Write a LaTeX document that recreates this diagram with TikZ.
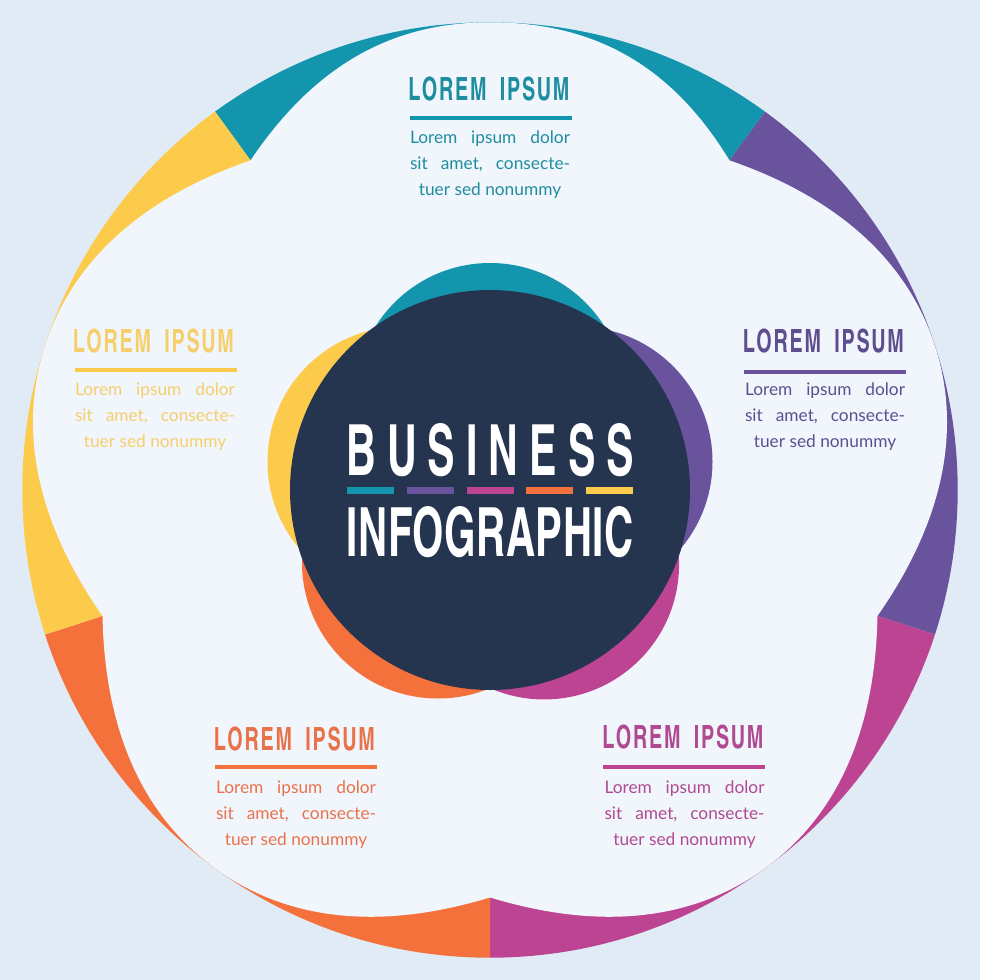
\documentclass[tikz,border=0pt]{standalone}
\usepackage{fontspec}
\usepackage{graphicx}
\usetikzlibrary{calc}
\setmainfont{Lato}
\newfontfamily\headfont[LetterSpace=7]{TeX Gyre Heros Cn}
\newfontfamily\titlefont[LetterSpace=22]{TeX Gyre Heros Cn}
\newfontfamily\titlefontb[LetterSpace=1]{TeX Gyre Heros Cn}
\definecolor{bgc}{HTML}{E1EBF5}
\definecolor{flowerc}{HTML}{F1F6FD}
\definecolor{tealc}{HTML}{1396AD}
\definecolor{purplec}{HTML}{6A539D}
\definecolor{magentac}{HTML}{BD4493}
\definecolor{orangec}{HTML}{F4713C}
\definecolor{yellowc}{HTML}{FDCB4C}
\definecolor{darkc}{HTML}{25354F}
\definecolor{ttealc}{HTML}{1F8DA0}
\definecolor{tpurplec}{HTML}{5E4E8E}
\definecolor{tmagentac}{HTML}{B04A90}
\definecolor{torangec}{HTML}{E8734A}
\definecolor{tyellowc}{HTML}{F6CF6C}
\tikzset{
  headtext/.style={inner sep=0pt,anchor=base},
  bodytext/.style={inner sep=0pt,anchor=base,align=center,font=\fontsize{17.3pt}{26pt}\selectfont},
  rulebar/.style={inner sep=0pt,minimum width=162pt,minimum height=4.4pt},
  keybar/.style={inner sep=0pt,minimum width=47pt,minimum height=7pt}
}
% name, bar colour, text colour, head centre x, head base y, bar centre x, bar centre y, body centre x, body last baseline y
\newcommand{\loremblock}[9]{%
  \node[headtext,text=#3] (#1head) at (#4,#5) {\resizebox{161pt}{23.6pt}{\headfont\bfseries LOREM\hspace{0.55em}IPSUM}};
  \node[rulebar,fill=#2] (#1bar) at (#6,#7) {};
  \node[bodytext,text=#3] (#1body) at (#8,#9) {%
    \makebox[160pt][s]{Lorem\hfill ipsum\hfill dolor}\\
    \makebox[160pt][s]{sit\hfill amet,\hfill consecte-}\\
    tuer sed nonummy};
}
\begin{document}
\begin{tikzpicture}[x=1pt,y=-1pt]
\useasboundingbox (0,0) rectangle (980,980);
\fill[bgc] (0,0) rectangle (980,980);
\coordinate (c) at (490,490);
% outer coloured ring: five sectors of the big circle
\begin{scope}
  \clip (c) circle[radius=467.7pt];
  \foreach \a/\b/\col in {-126/-54/tealc,-54/18/purplec,18/90/magentac,90/162/orangec,162/234/yellowc}{
    \fill[\col] (c) -- ($(c)+(\a:900)$) -- ($(c)+({(\a+\b)/2}:1100)$) -- ($(c)+(\b:900)$) -- cycle;
  }
\end{scope}
% pale flower: pentagon with five overlapping lobes
\begin{scope}[shift={(c)},y=1pt]
  \fill[flowerc] (54:407.5) -- (126:407.5) -- (198:407.5) -- (270:407.5) -- (342:407.5) -- cycle;
  \fill[flowerc] (-239.4,329.7) .. controls (-172,430) and (-92,467.7) .. (0,467.7)
     .. controls (105,467.7) and (182,424) .. (239.4,329.7) -- (0,0) -- cycle;
  \foreach \r in {72,144,216,288}{
    \fill[flowerc,rotate=\r] (-239.4,329.7) .. controls (-175,415) and (-95,467.7) .. (0,467.7)
       .. controls (95,467.7) and (175,415) .. (239.4,329.7) -- (0,0) -- cycle;
  }
\end{scope}
% inner lobes
\fill[tealc] ($(c)+(-90:92)$) circle[radius=135pt];
\fill[purplec] ($(c)+(-18:92)$) circle[radius=135pt];
\fill[magentac] ($(c)+(54:92)$) circle[radius=135pt];
\fill[orangec] (438,562.5) circle[radius=136pt];
\fill[yellowc] ($(c)+(198:92)$) circle[radius=135pt];
% dark centre
\node[circle,fill=darkc,inner sep=0pt,minimum size=400pt] (hub) at (c) {};
\node[inner sep=0pt,anchor=base,text=white] (business) at (490.3,475) {\resizebox{288pt}{52pt}{\titlefont\bfseries BUSINESS}};
\node[inner sep=0pt,anchor=base,text=white] (infographic) at (490.3,556) {\resizebox{287pt}{50pt}{\titlefontb\bfseries INFOGRAPHIC}};
\node[keybar,fill=tealc] (k1) at (370.7,490.3) {};
\node[keybar,fill=purplec] (k2) at (430.3,490.3) {};
\node[keybar,fill=magentac] (k3) at (490,490.3) {};
\node[keybar,fill=orangec] (k4) at (549.6,490.3) {};
\node[keybar,fill=yellowc] (k5) at (609.3,490.3) {};
% text blocks
\loremblock{t}{tealc}{ttealc}{489}{100.7}{491}{117.8}{490}{195}
\loremblock{y}{yellowc}{tyellowc}{153.5}{352.7}{156}{370}{155}{447}
\loremblock{p}{purplec}{tpurplec}{823.5}{352.7}{825}{372}{825}{447}
\loremblock{m}{magentac}{tmagentac}{683}{748}{684}{767}{684.5}{845}
\loremblock{o}{orangec}{torangec}{294.5}{750}{296}{767}{296}{845}
\end{tikzpicture}
\end{document}
